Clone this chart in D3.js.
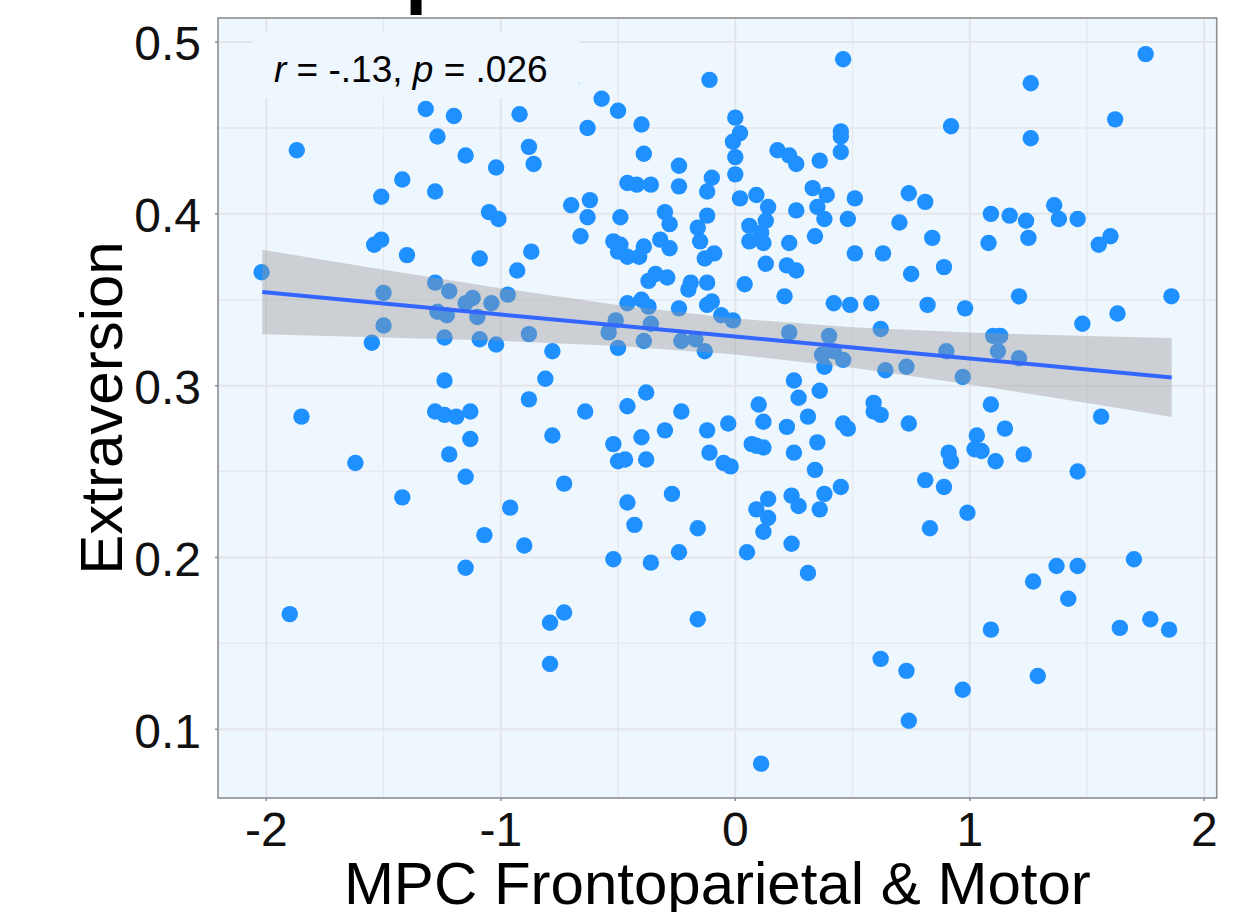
<!DOCTYPE html>
<html lang="en">
  <head>
    <meta charset="UTF-8" />
    <title>MPC Frontoparietal & Motor vs Extraversion</title>
    <script src="https://d3js.org/d3.v7.min.js"></script>
    <style>
      body {
        margin: 0;
        padding: 0;
        background: #fff;
        font-family: "Liberation Sans", Arial, sans-serif;
      }
      svg {
        display: block;
      }
      .tick-label {
        font-size: 48px;
        fill: #111;
      }
      .axis-title {
        font-size: 60px;
        fill: #000;
      }
      .stat {
        font-size: 37px;
        fill: #000;
      }
    </style>
  </head>
  <body>
    <script>
      // Values: MPC score (x) and extraversion (y) per subject
      const mpc = [
        -1.32, -1.20, -0.92, -1.27, -1.87, -0.88, -1.15, -1.02, -0.86, -1.42,
        -1.51, -1.28, -1.05, -1.01, -1.54, -1.51, -1.40, -1.09, -0.87, -2.02,
        -0.93, -1.28, -1.50, -1.22, -0.97, -1.15, -1.12, -1.04, -1.27, -1.23,
        -1.10, -1.50, -0.88, -1.24, -1.09, -1.02, -1.55, -0.78, -1.24, -0.81,
        -0.88, 0.46, -0.11, -0.57, -0.50, -0.63, -0.40, 0.00, 0.02, -0.01,
        0.00, 0.00, -0.39, -0.24, -0.24, -0.46, -0.42, -0.36, -0.10, -0.12,
        0.45, 0.45, 0.45, 0.18, 0.23, 0.26, 0.36, 0.33, 0.39, 0.51,
        0.35, 0.38, 0.48, 0.34, 0.02, 0.09, 0.14, 0.26, 0.13, 0.06,
        0.11, 0.06, 0.12, 0.23, 0.51, 0.63, 0.22, 0.26, 0.13, 0.21,
        0.04, -0.70, -0.62, -0.63, -0.49, -0.66, -0.30, -0.28, -0.12, -0.16,
        -0.15, -0.52, -0.49, -0.50, -0.46, -0.41, -0.39, -0.32, -0.28, -0.13,
        -0.09, -0.34, -0.37, -0.29, -0.19, -0.20, -0.12, -0.46, -0.40, -0.37,
        -0.24, -0.12, -0.10, -0.06, -0.01, 0.42, 0.49, 0.58, -0.51, -0.54,
        -0.36, -0.39, -0.23, -0.17, -0.13, -0.50, 0.23, 0.40, 0.62, 0.37,
        0.42, 0.46, 0.38, 0.64, -0.38, 0.25, 0.27, 0.36, 0.10, 0.59,
        -0.64, -0.46, -0.23, 1.75, 1.26, 1.62, 1.26, 0.92, 0.74, 0.81,
        0.70, 0.84, 0.75, 0.89, 1.09, 1.17, 1.24, 1.36, 1.38, 1.46,
        1.08, 1.25, 1.60, 1.55, 1.21, 1.86, 1.63, 1.48, 0.82, 0.98,
        1.10, 1.13, 1.12, 1.21, 0.90, 0.73, 0.97, 1.09, -1.85, -1.28,
        -1.24, -1.19, -1.13, -0.78, -1.13, -1.22, -1.62, -1.15, -0.73, -1.42,
        -0.96, -1.07, -0.90, -1.15, -1.90, -0.79, -0.73, -0.79, -0.52, -0.40,
        -0.30, -0.12, -0.03, 0.12, 0.31, 0.22, 0.46, 0.48, 0.59, 0.62,
        -0.50, -0.47, -0.38, -0.11, -0.05, -0.02, 0.07, 0.12, 0.09, 0.25,
        0.35, 0.34, -0.46, -0.27, -0.43, -0.16, -0.24, -0.36, -0.52, 0.05,
        0.14, 0.09, 0.14, 0.12, 0.24, 0.27, 0.38, 0.36, 0.45, 0.24,
        0.31, -0.16, 0.62, 0.11, 0.74, 1.56, 1.15, 1.03, 1.02, 1.05,
        0.91, 0.92, 1.11, 1.23, 1.46, 0.81, 0.89, 0.99, 0.83, 1.37,
        1.46, 1.70, 1.27, 1.42, 1.09, 1.64, 1.77, 1.85, 0.73, 0.97,
        1.29, 0.74, -0.70
      ];
      const extraversion = [
        0.461, 0.457, 0.458, 0.445, 0.437, 0.439, 0.434, 0.427, 0.429, 0.420,
        0.410, 0.413, 0.401, 0.397, 0.382, 0.385, 0.376, 0.374, 0.378, 0.366,
        0.367, 0.360, 0.354, 0.355, 0.353, 0.348, 0.351, 0.348, 0.343, 0.341,
        0.340, 0.335, 0.330, 0.328, 0.327, 0.324, 0.325, 0.320, 0.303, 0.304,
        0.292, 0.490, 0.478, 0.467, 0.460, 0.450, 0.452, 0.456, 0.447, 0.442,
        0.433, 0.423, 0.435, 0.428, 0.416, 0.418, 0.417, 0.417, 0.421, 0.413,
        0.448, 0.436, 0.445, 0.437, 0.434, 0.429, 0.431, 0.415, 0.411, 0.409,
        0.404, 0.397, 0.397, 0.387, 0.409, 0.411, 0.404, 0.402, 0.396, 0.393,
        0.389, 0.384, 0.383, 0.383, 0.377, 0.377, 0.370, 0.367, 0.371, 0.352,
        0.359, 0.405, 0.408, 0.398, 0.398, 0.387, 0.401, 0.394, 0.399, 0.392,
        0.384, 0.384, 0.382, 0.378, 0.375, 0.375, 0.381, 0.385, 0.380, 0.374,
        0.377, 0.365, 0.361, 0.363, 0.360, 0.356, 0.360, 0.348, 0.350, 0.346,
        0.345, 0.347, 0.349, 0.341, 0.338, 0.348, 0.347, 0.348, 0.338, 0.331,
        0.336, 0.326, 0.326, 0.327, 0.320, 0.322, 0.331, 0.329, 0.333, 0.318,
        0.320, 0.315, 0.311, 0.309, 0.296, 0.303, 0.293, 0.297, 0.289, 0.290,
        0.285, 0.288, 0.285, 0.493, 0.476, 0.455, 0.444, 0.451, 0.412, 0.407,
        0.395, 0.386, 0.365, 0.369, 0.400, 0.399, 0.396, 0.405, 0.397, 0.397,
        0.383, 0.386, 0.387, 0.382, 0.352, 0.352, 0.342, 0.336, 0.347, 0.345,
        0.329, 0.329, 0.320, 0.316, 0.320, 0.311, 0.305, 0.289, 0.282, 0.285,
        0.283, 0.282, 0.285, 0.271, 0.269, 0.260, 0.255, 0.247, 0.243, 0.235,
        0.229, 0.213, 0.207, 0.194, 0.167, 0.162, 0.168, 0.138, 0.266, 0.270,
        0.274, 0.274, 0.278, 0.279, 0.282, 0.276, 0.278, 0.275, 0.285, 0.283,
        0.256, 0.257, 0.257, 0.261, 0.255, 0.253, 0.266, 0.264, 0.265, 0.261,
        0.267, 0.251, 0.232, 0.237, 0.219, 0.217, 0.203, 0.197, 0.199, 0.203,
        0.234, 0.228, 0.223, 0.215, 0.236, 0.230, 0.237, 0.228, 0.241, 0.208,
        0.191, 0.164, 0.141, 0.080, 0.278, 0.282, 0.275, 0.271, 0.263, 0.262,
        0.261, 0.256, 0.256, 0.260, 0.250, 0.245, 0.241, 0.226, 0.217, 0.195,
        0.195, 0.199, 0.186, 0.176, 0.158, 0.159, 0.164, 0.158, 0.134, 0.123,
        0.131, 0.105, 0.476
      ];

      // Fitted line with its confidence band, read at a few x positions
      const fitX = [-2.017, -1.5, -1, -0.5, 0, 0.5, 1, 1.5, 1.861];
      const fitY = [0.3545, 0.3478, 0.3414, 0.3350, 0.3286, 0.3222, 0.3158, 0.3094, 0.3047];
      const bandLow = [0.3299, 0.3281, 0.3261, 0.3231, 0.3181, 0.3104, 0.3007, 0.2899, 0.2817];
      const bandHigh = [0.3791, 0.3675, 0.3567, 0.3469, 0.3391, 0.3340, 0.3309, 0.3289, 0.3277];

      // Axis ticks
      const xTicks = [-2, -1, 0, 1, 2];
      const xMinor = [-1.5, -0.5, 0.5, 1.5];
      const yTicks = [0.1, 0.2, 0.3, 0.4, 0.5];
      const yMinor = [0.15, 0.25, 0.35, 0.45];

      const statText = ["r", " = -.13, ", "p", " = .026"];

      const width = 1245,
            height = 912;
      const panel = { left: 218, right: 1216.7, top: 18, bottom: 798 };

      const svg = d3.select("body")
                    .append("svg")
                    .attr("width", width)
                    .attr("height", height);

      const x = d3.scaleLinear()
                  .domain([-2.206, 2.053])
                  .range([panel.left, panel.right]);
      const y = d3.scaleLinear()
                  .domain([0.060, 0.514])
                  .range([panel.bottom, panel.top]);

      // Cropped title glyph: only its descender shows at the top edge
      svg.append("text")
         .attr("x", 405)
         .attr("y", -2)
         .attr("font-size", 80)
         .attr("font-weight", "bold")
         .text("p");

      // Panel background
      svg.append("rect")
         .attr("x", panel.left)
         .attr("y", panel.top)
         .attr("width", panel.right - panel.left)
         .attr("height", panel.bottom - panel.top)
         .attr("fill", "#eef6fe");

      // Grid lines
      const grid = svg.append("g");
      grid.selectAll(".vminor").data(xMinor).enter().append("line")
          .attr("x1", d => x(d)).attr("x2", d => x(d))
          .attr("y1", panel.top).attr("y2", panel.bottom)
          .attr("stroke", "#e6e9ed").attr("stroke-width", 1.4);
      grid.selectAll(".hminor").data(yMinor).enter().append("line")
          .attr("x1", panel.left).attr("x2", panel.right)
          .attr("y1", d => y(d)).attr("y2", d => y(d))
          .attr("stroke", "#e6e9ed").attr("stroke-width", 1.4);
      grid.selectAll(".vmajor").data(xTicks).enter().append("line")
          .attr("x1", d => x(d)).attr("x2", d => x(d))
          .attr("y1", panel.top).attr("y2", panel.bottom)
          .attr("stroke", "#e3e5e8").attr("stroke-width", 2);
      grid.selectAll(".hmajor").data(yTicks).enter().append("line")
          .attr("x1", panel.left).attr("x2", panel.right)
          .attr("y1", d => y(d)).attr("y2", d => y(d))
          .attr("stroke", "#e3e5e8").attr("stroke-width", 2);

      // Points
      const points = mpc.map((v, i) => ({ x: v, y: extraversion[i] }));
      svg.append("g")
         .selectAll("circle")
         .data(points)
         .enter()
         .append("circle")
         .attr("cx", d => x(d.x))
         .attr("cy", d => y(d.y))
         .attr("r", 8.2)
         .attr("fill", "#1e90ff");

      // Confidence band (drawn over the points, semi-transparent)
      const band = fitX.map((v, i) => ({ x: v, lo: bandLow[i], hi: bandHigh[i], fit: fitY[i] }));
      svg.append("path")
         .datum(band)
         .attr("fill", "#999999")
         .attr("fill-opacity", 0.4)
         .attr("d", d3.area()
                      .x(d => x(d.x))
                      .y0(d => y(d.lo))
                      .y1(d => y(d.hi)));

      // Regression line
      svg.append("path")
         .datum(band)
         .attr("fill", "none")
         .attr("stroke", "#3366ff")
         .attr("stroke-width", 4)
         .attr("d", d3.line()
                      .x(d => x(d.x))
                      .y(d => y(d.fit)));

      // Statistic label with its own panel-coloured box
      svg.append("rect")
         .attr("x", 253)
         .attr("y", 33)
         .attr("width", 326)
         .attr("height", 65)
         .attr("fill", "#eef6fe");
      const stat = svg.append("text")
                      .attr("class", "stat")
                      .attr("x", 274)
                      .attr("y", 81.5)
                      .style("white-space", "pre");
      statText.forEach((s, i) => {
        stat.append("tspan")
            .attr("font-style", i % 2 === 0 ? "italic" : "normal")
            .text(s);
      });

      // Panel border
      svg.append("rect")
         .attr("x", panel.left)
         .attr("y", panel.top)
         .attr("width", panel.right - panel.left)
         .attr("height", panel.bottom - panel.top)
         .attr("fill", "none")
         .attr("stroke", "#8a8e92")
         .attr("stroke-width", 1.6);

      // Ticks and tick labels
      svg.selectAll(".xtick").data(xTicks).enter().append("line")
         .attr("x1", d => x(d)).attr("x2", d => x(d))
         .attr("y1", panel.bottom).attr("y2", panel.bottom + 3)
         .attr("stroke", "#8a8e92").attr("stroke-width", 1.5);
      svg.selectAll(".ytick").data(yTicks).enter().append("line")
         .attr("x1", panel.left - 3).attr("x2", panel.left)
         .attr("y1", d => y(d)).attr("y2", d => y(d))
         .attr("stroke", "#8a8e92").attr("stroke-width", 1.5);

      svg.selectAll(".xlabel").data(xTicks).enter().append("text")
         .attr("class", "tick-label")
         .attr("x", d => x(d))
         .attr("y", 846)
         .attr("text-anchor", "middle")
         .text(d => d3.format("d")(d).replace("−", "-"));
      svg.selectAll(".ylabel").data(yTicks).enter().append("text")
         .attr("class", "tick-label")
         .attr("x", 201)
         .attr("y", d => y(d))
         .attr("dy", "0.38em")
         .attr("text-anchor", "end")
         .text(d => d3.format(".1f")(d));

      // Axis titles
      svg.append("text")
         .attr("class", "axis-title")
         .attr("x", (panel.left + panel.right) / 2)
         .attr("y", 904)
         .attr("text-anchor", "middle")
         .text("MPC Frontoparietal & Motor");
      svg.append("text")
         .attr("class", "axis-title")
         .attr("transform", `translate(122,${(panel.top + panel.bottom) / 2}) rotate(-90)`)
         .attr("text-anchor", "middle")
         .text("Extraversion");
    </script>
  </body>
</html>
